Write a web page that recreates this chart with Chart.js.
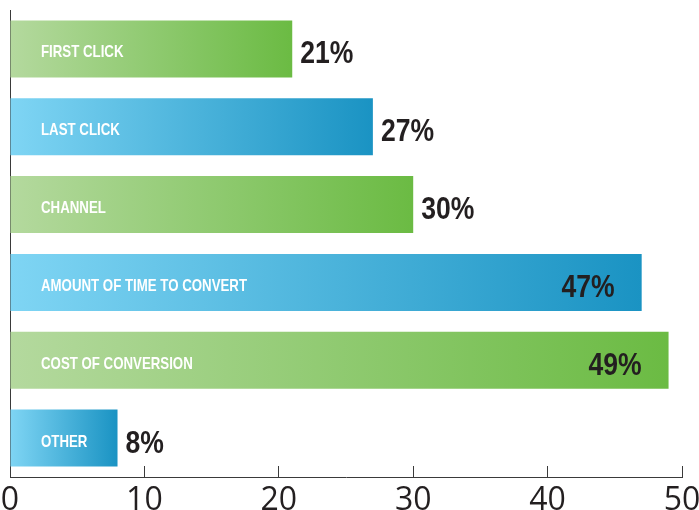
<!DOCTYPE html>
<html>
<head>
<meta charset="utf-8">
<script src="https://cdn.jsdelivr.net/npm/chart.js@4"></script>
<style>
  html, body { margin: 0; padding: 0; background: #fff; }
  #wrap { width: 699px; height: 510px; }
</style>
</head>
<body>
<div id="wrap"><canvas id="myChart"></canvas></div>
<script>
const categories = ['FIRST CLICK', 'LAST CLICK', 'CHANNEL', 'AMOUNT OF TIME TO CONVERT', 'COST OF CONVERSION', 'OTHER'];
const shares = [21, 27, 30, 47, 49, 8];
const barTones = ['green', 'blue', 'green', 'blue', 'green', 'blue'];
const tickValues = [0, 10, 20, 30, 40, 50];

const toneStops = {
  green: ['#b4d99e', '#6bbb43'],
  blue: ['#7fd5f4', '#1a93c3']
};
const inkColor = '#231f20';
const axisColor = '#3a3a3a';

// each bar fades light -> dark across its own length
function barFill(context) {
  const chart = context.chart;
  const stops = toneStops[barTones[context.dataIndex]];
  if (!chart.chartArea || context.type !== 'data') return stops[1];
  const xs = chart.scales.x;
  const x0 = xs.getPixelForValue(0);
  const x1 = xs.getPixelForValue(shares[context.dataIndex]);
  const g = chart.ctx.createLinearGradient(x0, 0, x1, 0);
  g.addColorStop(0, stops[0]);
  g.addColorStop(1, stops[1]);
  return g;
}

// condensed look: draw Liberation Sans squeezed horizontally
function squeezedText(ctx, text, x, y, align, sx) {
  ctx.save();
  ctx.translate(x, y);
  ctx.scale(sx, 1);
  ctx.textAlign = align;
  ctx.fillText(text, 0, 0);
  ctx.restore();
}

// category name inside the bar, percentage at (or inside) the bar end
const barLabels = {
  id: 'barLabels',
  afterDatasetsDraw(chart) {
    const ctx = chart.ctx;
    const xs = chart.scales.x;
    const meta = chart.getDatasetMeta(0);
    ctx.save();
    ctx.textBaseline = 'alphabetic';
    meta.data.forEach((bar, i) => {
      ctx.fillStyle = '#fff';
      ctx.font = 'bold 17px "Liberation Sans", Arial, sans-serif';
      squeezedText(ctx, categories[i], xs.getPixelForValue(0) + 31, bar.y + 8.5, 'left', 0.78);

      ctx.fillStyle = inkColor;
      ctx.font = 'bold 32px "Liberation Sans", Arial, sans-serif';
      const text = shares[i] + '%';
      if (shares[i] >= 40) {
        squeezedText(ctx, text, bar.x - 27, bar.y + 14.5, 'right', 0.83);
      } else {
        squeezedText(ctx, text, bar.x + 8, bar.y + 14.5, 'left', 0.83);
      }
    });
    ctx.restore();
  }
};

new Chart(document.getElementById('myChart'), {
  type: 'bar',
  data: {
    labels: categories,
    datasets: [{
      data: shares,
      backgroundColor: barFill,
      borderWidth: 0,
      barPercentage: 0.733,
      categoryPercentage: 1
    }]
  },
  options: {
    indexAxis: 'y',
    responsive: true,
    maintainAspectRatio: false,
    animation: false,
    layout: { padding: { top: 10, right: 17, left: 0, bottom: 0 } },
    plugins: {
      legend: { display: false },
      tooltip: { enabled: false }
    },
    scales: {
      x: {
        type: 'linear',
        min: 0,
        max: 50,
        afterBuildTicks: scale => { scale.ticks = tickValues.map(v => ({ value: v })); },
        afterFit: scale => { scale.height = 33; scale.paddingLeft = 0; scale.paddingRight = 0; },
        border: { display: true, color: axisColor, width: 1 },
        grid: { drawOnChartArea: false, drawTicks: true, tickLength: -11, color: axisColor, lineWidth: 1 },
        ticks: {
          padding: 16,
          color: inkColor,
          font: { family: '"Open Sans", sans-serif', size: 32 }
        }
      },
      y: {
        afterFit: scale => { scale.width = 10; },
        border: { display: true, color: axisColor, width: 1 },
        grid: { drawOnChartArea: false, drawTicks: false },
        ticks: { display: false }
      }
    }
  },
  plugins: [barLabels]
});
</script>
</body>
</html>
